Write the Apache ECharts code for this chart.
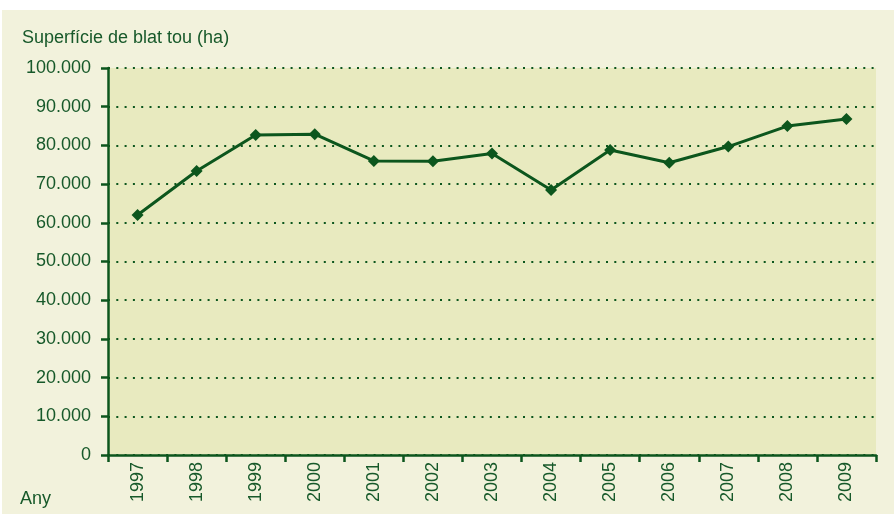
<!DOCTYPE html>
<html>
<head>
<meta charset="utf-8">
<script src="https://cdn.jsdelivr.net/npm/echarts@6/dist/echarts.min.js"></script>
<style>html,body{margin:0;padding:0;background:#fff;}#c{width:894px;height:514px;}</style>
</head>
<body>
<div id="c"></div>
<script>
const years = ['1997','1998','1999','2000','2001','2002','2003','2004','2005','2006','2007','2008','2009'];
const surface = [62000, 73400, 82700, 82900, 76000, 75900, 77900, 68500, 78800, 75500, 79700, 85000, 86800];
const yTitle = 'Superfície de blat tou (ha)';
const xTitle = 'Any';

const green = '#0c561d';
const textGreen = '#17592a';
const chart = echarts.init(document.getElementById('c'));
function fmt(v){ return String(v).replace(/\B(?=(\d{3})+(?!\d))/g, '.'); }
chart.setOption({
  backgroundColor: '#ffffff',
  animation: false,
  textStyle: { fontFamily: 'Liberation Sans, Arial, sans-serif' },
  graphic: [
    { type: 'rect', z: -10, silent: true, shape: { x: 2, y: 10, width: 892, height: 504 }, style: { fill: '#f2f2dc' } },
    { type: 'text', left: 22, top: 29, style: { text: yTitle, fill: textGreen, font: '18px Liberation Sans, Arial, sans-serif' } },
    { type: 'text', left: 20, top: 490, style: { text: xTitle, fill: textGreen, font: '18px Liberation Sans, Arial, sans-serif' } }
  ],
  grid: { left: 108, right: 18, top: 68, bottom: 59, show: true, backgroundColor: '#e8eabf', borderWidth: 0 },
  xAxis: {
    type: 'category',
    data: years,
    boundaryGap: true,
    axisLine: { lineStyle: { color: green, width: 2.5 } },
    axisTick: { show: true, length: 7, lineStyle: { color: green, width: 2.5 }, alignWithLabel: false },
    axisLabel: { rotate: 90, color: textGreen, fontSize: 18, margin: 7 },
    splitLine: { show: false }
  },
  yAxis: {
    type: 'value',
    min: 0, max: 100000, interval: 10000,
    axisLine: { show: true, lineStyle: { color: green, width: 2.5 } },
    axisTick: { show: true, length: 7, lineStyle: { color: green, width: 2.5 } },
    axisLabel: { color: textGreen, fontSize: 18, margin: 17, formatter: fmt },
    splitLine: { show: true, lineStyle: { color: green, width: 2, type: [2, 6.3] } }
  },
  series: [{
    type: 'line',
    data: surface,
    symbol: 'diamond',
    symbolSize: 12,
    lineStyle: { color: green, width: 3 },
    itemStyle: { color: green }
  }]
});
</script>
</body>
</html>
